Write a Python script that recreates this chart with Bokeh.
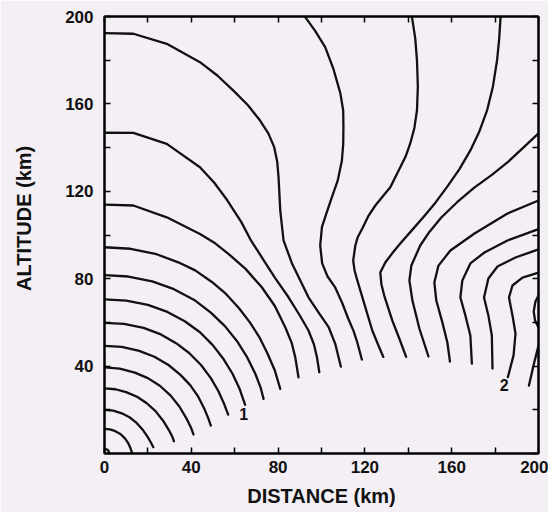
from bokeh.plotting import figure
from bokeh.models import Range1d, FixedTicker, LinearAxis
from bokeh.core.properties import value
from bokeh.embed import file_html
from bokeh.resources import INLINE

FONT = "Liberation Sans"
BG = "#f3eff4"
INK = "#111111"

# Contour traces as (distance km, altitude km) points.
# Inner family: arcs that leave the altitude axis and end above the ground.
ring_00 = [(0, 2.2), (1.6, 1.6), (2.2, 0.2)]
ring_01 = [(0, 11.3), (2.5, 11.0), (5, 10.2), (7.5, 8.8), (9.5, 6.8), (11, 4.6), (12, 2.4), (12.6, 0.5)]
ring_02 = [(0, 20.0), (4, 19.6), (8, 18.4), (11.5, 16.6), (14.8, 14.0), (17.5, 11.0), (19.8, 7.7),
           (21.5, 4.8), (22.5, 2.9)]
ring_03 = [(0, 29.8), (5, 29.4), (10, 28.1), (15, 26.0), (19.5, 23.0), (23.5, 19.4), (27, 15.0),
           (29.8, 10.5), (31.3, 7.5), (32, 5.6)]
ring_04 = [(0, 39.4), (7, 38.8), (14, 37.0), (20, 34.5), (25.5, 31.0), (30.5, 26.5), (34.5, 21.5),
           (37.8, 16.0), (40, 11.5), (41, 8.7)]
ring_05 = [(0, 49.3), (8, 48.8), (16, 47.0), (23, 44.3), (29.5, 40.5), (35, 36.0), (39.5, 31.3),
           (43.2, 26.0), (46, 20.5), (47.8, 16.2), (49, 12.8)]
ring_06 = [(0, 59.8), (9, 59.3), (18, 57.5), (26, 54.5), (33, 50.5), (39, 46.0), (44.5, 40.5),
           (49, 34.5), (52.5, 28.5), (55, 23.0), (57, 17.8)]
ring_07 = [(0, 70.5), (10, 70.0), (20, 68.0), (29, 64.8), (37, 60.5), (44, 55.5), (50, 49.5),
           (55, 43.0), (59, 36.5), (62.3, 29.5), (64.8, 22.3)]
ring_08 = [(0, 81.6), (11, 81.0), (22, 78.8), (32, 75.2), (41.8, 70.0), (49, 64.5), (55.5, 58.3),
           (61, 51.5), (65.5, 44.5), (69.5, 36.5), (72, 30.0), (73.3, 25.0)]
ring_09 = [(0, 94.4), (12, 93.7), (24, 91.2), (34, 87.5), (41.8, 83.8), (49.5, 78.5), (56, 73.0),
           (62, 66.5), (67, 60.0), (71.5, 53.0), (75, 46.0), (78.5, 38.0), (81, 29.6)]
ring_10 = [(0, 113.9), (13.3, 113.5), (28.7, 108.1), (44, 100.5), (51, 96.2), (57.1, 91.4),
           (65, 84.5), (72.5, 76.1), (78.5, 67.5), (83.3, 57.8), (86.3, 50.5), (87.9, 44.1),
           (89.4, 34.9)]
ring_11 = [(0, 146.8), (13.3, 146.7), (28.7, 141.7), (44, 131.0), (50.5, 124.0), (56.5, 116.0),
           (63, 106.0), (67.5, 97.5), (72.5, 89.8), (78.5, 80.5), (84.8, 71.5), (89.8, 63.5),
           (94, 56.3), (96.5, 50.0), (97.9, 44.1), (99, 37.2)]
ring_12 = [(0, 192.4), (13.3, 192.1), (28.7, 187.5), (44, 179.1), (52, 173.0), (59.4, 166.1),
           (66, 159.5), (71.7, 152.4), (75.5, 146.5), (78.2, 140.2), (79.6, 133.5), (80.2, 126.5),
           (81, 111.2), (82.5, 97.5), (86.4, 87.0), (94, 71.5), (99, 64.0), (103.3, 57.8),
           (106.3, 50.3), (108.9, 39.8)]

# Outer family: lines entering from the top or right edge.
top_1 = [(92.5, 199.7), (97, 193.5), (101.7, 186.0), (105.5, 176.0), (108.7, 164.8), (110, 157.0),
         (110.1, 149.3), (110, 141.5), (109.4, 134.1), (107.5, 125.0), (104.8, 117.3),
         (102.3, 110.0), (100.2, 103.6), (99.4, 95.2), (100.3, 87.0), (102.8, 81.0),
         (106.3, 76.0), (109.5, 69.0), (112.3, 61.8), (114.8, 56.0), (116.5, 50.8), (118.6, 43.0)]
top_2 = [(141.7, 199.7), (143.2, 190.0), (144.0, 179.9), (144.4, 168.0), (144.0, 157.0),
         (142.8, 149.0), (140.9, 141.9), (138.8, 136.0), (136.3, 131.0), (131.7, 121.9),
         (124.8, 113.5), (121.5, 108.5), (118.8, 103.0), (116.7, 99.0), (115.6, 95.2),
         (114.6, 88.3), (115.2, 84.0), (116.5, 79.2), (119.7, 68.6), (123.4, 56.3),
         (126, 50.0), (128.5, 44.2)]
top_3 = [(182.5, 199.7), (181.9, 190.0), (180.9, 179.9), (179, 168.0), (176.3, 157.0),
         (172.8, 147.5), (168.6, 138.7), (163.5, 130.0), (157.8, 121.9), (152.5, 114.8),
         (146.9, 108.1), (141.5, 102.0), (136.3, 96.1), (132.5, 91.5), (129.4, 87.4),
         (127.1, 82.8), (127.6, 77.5), (128.9, 72.3), (132.6, 60.9), (136.2, 51.7), (139.0, 44.2)]
side_1 = [(200, 146.5), (193, 140.0), (186.1, 133.6), (178.5, 127.5), (170.4, 121.7),
          (162.5, 115.0), (155.2, 108.0), (149.8, 101.5), (145.5, 95.2), (141.4, 86.0),
          (140.5, 79.2), (141.9, 70.0), (145.1, 57.2), (149.3, 44.4)]
side_2 = [(200, 115.8), (185.7, 109.8), (170.5, 100.7), (159.4, 92.9), (153.9, 86.0),
          (152.0, 78.3), (152.9, 70.0), (155.7, 60.0), (158.0, 50.8), (159.2, 42.1)]
side_3 = [(200, 102.7), (185.7, 97.5), (175.1, 92.0), (168.6, 87.0), (164.9, 79.2),
          (164.0, 71.4), (166.3, 63.2), (168.6, 54.0), (169.3, 41.1)]
side_4 = [(200, 93.4), (189.4, 89.7), (181.1, 85.6), (176.9, 80.1), (174.9, 71.4),
          (176.9, 63.2), (178.5, 54.0), (178.8, 38.9)]
side_5 = [(200, 82.8), (192.6, 80.5), (188.0, 76.9), (186.4, 71.4), (188.0, 63.2),
          (189.4, 54.9), (188.5, 44.9), (185.9, 35.0)]
side_6 = [(200, 72.3), (198.6, 69.6), (197.8, 65.0), (198.4, 60.9), (200, 57.7)]
side_7 = [(200, 49.4), (197.7, 40.3), (195.6, 31.1)]

contours = [ring_00, ring_01, ring_02, ring_03, ring_04, ring_05, ring_06, ring_07,
            ring_08, ring_09, ring_10, ring_11, ring_12,
            top_1, top_2, top_3, side_1, side_2, side_3, side_4, side_5, side_6, side_7]

# Contour value labels
contour_labels = ["1", "2"]
label_x = [64.2, 184.2]
label_y = [18.3, 31.5]

x_ticks = [0, 40, 80, 120, 160, 200]
y_ticks = [40, 80, 120, 160, 200]
minor_ticks = [20, 60, 100, 140, 180]
all_ticks = [0, 20, 40, 60, 80, 100, 120, 140, 160, 180, 200]

p = figure(width=548, height=512, output_backend="svg", toolbar_location=None,
           x_range=Range1d(0, 200), y_range=Range1d(0, 200),
           min_border_left=104, min_border_right=10, min_border_top=16, min_border_bottom=59)
p.background_fill_color = BG
p.border_fill_color = BG
p.outline_line_color = "black"
p.outline_line_width = 2
p.grid.visible = False

p.multi_line([[pt[0] for pt in c] for c in contours],
             [[pt[1] for pt in c] for c in contours],
             line_color=INK, line_width=2.3, line_join="round", line_cap="round")

p.text(x=label_x, y=label_y, text=contour_labels, text_font=value(FONT),
       text_font_style="bold", text_font_size="16px", text_align="center",
       text_baseline="middle", text_color=INK)


def style_axis(ax, show_labels):
    ax.axis_line_color = "black"
    ax.axis_line_width = 2
    ax.major_tick_in = 6
    ax.major_tick_out = 0
    ax.minor_tick_in = 6
    ax.minor_tick_out = 0
    ax.major_tick_line_width = 1.5
    ax.minor_tick_line_width = 1.5
    ax.major_tick_line_color = "black"
    ax.minor_tick_line_color = "black"
    ax.major_label_text_font = FONT
    ax.major_label_text_font_style = "bold"
    ax.axis_label_text_font = FONT
    ax.axis_label_text_font_style = "bold"
    ax.axis_label_text_font_size = "20px"
    ax.axis_label_text_color = INK
    if show_labels:
        ax.major_label_text_font_size = "17px"
        ax.major_label_text_color = INK
    else:
        ax.major_label_text_font_size = "1px"
        ax.major_label_text_color = None
        ax.major_label_standoff = 0


xa = p.xaxis[0]
xa.ticker = FixedTicker(ticks=x_ticks, minor_ticks=minor_ticks)
style_axis(xa, True)
xa.major_label_standoff = 7
xa.axis_label = "DISTANCE (km)"
xa.axis_label_standoff = 9

ya = p.yaxis[0]
ya.ticker = FixedTicker(ticks=y_ticks, minor_ticks=minor_ticks)
style_axis(ya, True)
ya.major_label_standoff = 11
# leading no-break spaces lift the rotated title above the frame centre
ya.axis_label = "\u00a0" * 6 + "ALTITUDE (km)"
ya.axis_label_standoff = 27

top_axis = LinearAxis(ticker=FixedTicker(ticks=all_ticks, minor_ticks=[]))
style_axis(top_axis, False)
p.add_layout(top_axis, "above")

right_axis = LinearAxis(ticker=FixedTicker(ticks=all_ticks, minor_ticks=[]))
style_axis(right_axis, False)
p.add_layout(right_axis, "right")

open("out.html", "w").write(file_html(p, INLINE))
